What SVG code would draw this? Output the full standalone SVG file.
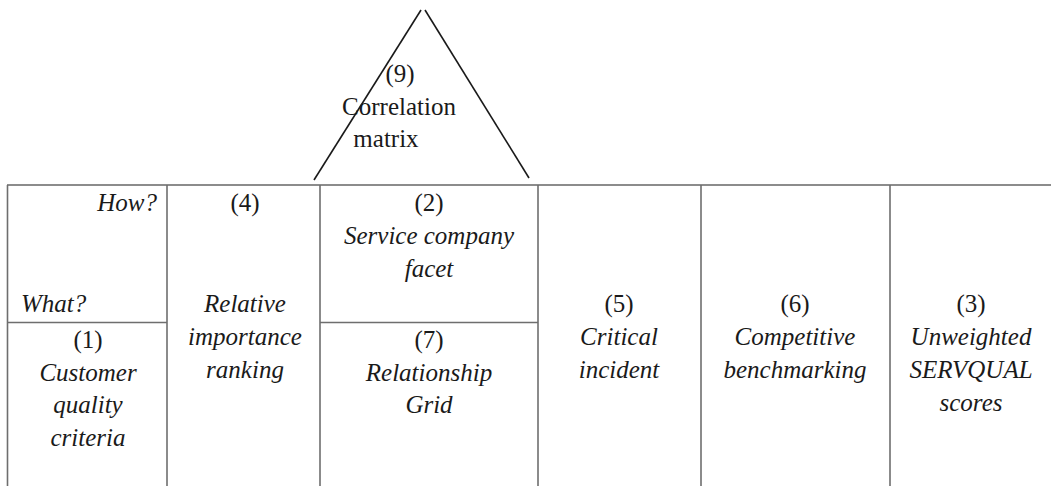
<svg xmlns="http://www.w3.org/2000/svg" width="1051" height="486" viewBox="0 0 1051 486" font-family="Liberation Serif, Times New Roman, Times, serif">
<style>
.bg{fill:#ffffff}
.grid{stroke:#6e6e6e;stroke-width:1.6;fill:none}
.top{stroke:#8c8c8c;stroke-width:2;fill:none}
.tri{stroke:#1a1a1a;stroke-width:1.6;fill:none}
text{font-family:'Liberation Serif','Times New Roman',Times,serif;font-size:25px;fill:#1a1a1a}
.i{font-style:italic}
.m{text-anchor:middle}
.e{text-anchor:end}
</style>
<rect class="bg" x="0" y="0" width="1051" height="486"/>
<g id="connectors">
  <line class="top" x1="7" y1="185" x2="1051" y2="185"/>
  <line class="grid" x1="7.5" y1="185" x2="7.5" y2="486"/>
  <line class="grid" x1="167" y1="185" x2="167" y2="486"/>
  <line class="grid" x1="320" y1="185" x2="320" y2="486"/>
  <line class="grid" x1="538" y1="185" x2="538" y2="486"/>
  <line class="grid" x1="701" y1="185" x2="701" y2="486"/>
  <line class="grid" x1="890" y1="185" x2="890" y2="486"/>
  <line class="grid" x1="7.5" y1="322.5" x2="167" y2="322.5"/>
  <line class="grid" x1="320" y1="322.5" x2="538" y2="322.5"/>
</g>
<g id="node-9-correlation-matrix">
  <line class="tri" x1="314" y1="180" x2="421" y2="10"/>
  <line class="tri" x1="425" y1="10" x2="529" y2="178"/>
  <text class="m" x="400" y="82">(9)</text>
  <text class="m" x="399" y="115">Correlation</text>
  <text class="m" x="386" y="147">matrix</text>
</g>
<g id="node-how-what">
  <text class="i e" x="157" y="211">How?</text>
  <text class="i" x="21" y="312">What?</text>
</g>
<g id="node-1-customer-quality-criteria">
  <text class="m" x="88" y="348">(1)</text>
  <text class="i m" x="88" y="380.5">Customer</text>
  <text class="i m" x="88" y="413">quality</text>
  <text class="i m" x="88" y="445.5">criteria</text>
</g>
<g id="node-4-relative-importance-ranking">
  <text class="m" x="245" y="211">(4)</text>
  <text class="i m" x="245" y="312">Relative</text>
  <text class="i m" x="245" y="345">importance</text>
  <text class="i m" x="245" y="378">ranking</text>
</g>
<g id="node-2-service-company-facet">
  <text class="m" x="429" y="211">(2)</text>
  <text class="i m" x="429" y="244">Service company</text>
  <text class="i m" x="429" y="277">facet</text>
</g>
<g id="node-7-relationship-grid">
  <text class="m" x="429" y="348">(7)</text>
  <text class="i m" x="429" y="380.5">Relationship</text>
  <text class="i m" x="429" y="413">Grid</text>
</g>
<g id="node-5-critical-incident">
  <text class="m" x="619" y="312">(5)</text>
  <text class="i m" x="619" y="345">Critical</text>
  <text class="i m" x="619" y="378">incident</text>
</g>
<g id="node-6-competitive-benchmarking">
  <text class="m" x="795" y="312">(6)</text>
  <text class="i m" x="795" y="345">Competitive</text>
  <text class="i m" x="795" y="378">benchmarking</text>
</g>
<g id="node-3-unweighted-servqual-scores">
  <text class="m" x="971" y="312">(3)</text>
  <text class="i m" x="971" y="345">Unweighted</text>
  <text class="i m" x="971" y="378">SERVQUAL</text>
  <text class="i m" x="971" y="411">scores</text>
</g>
</svg>
